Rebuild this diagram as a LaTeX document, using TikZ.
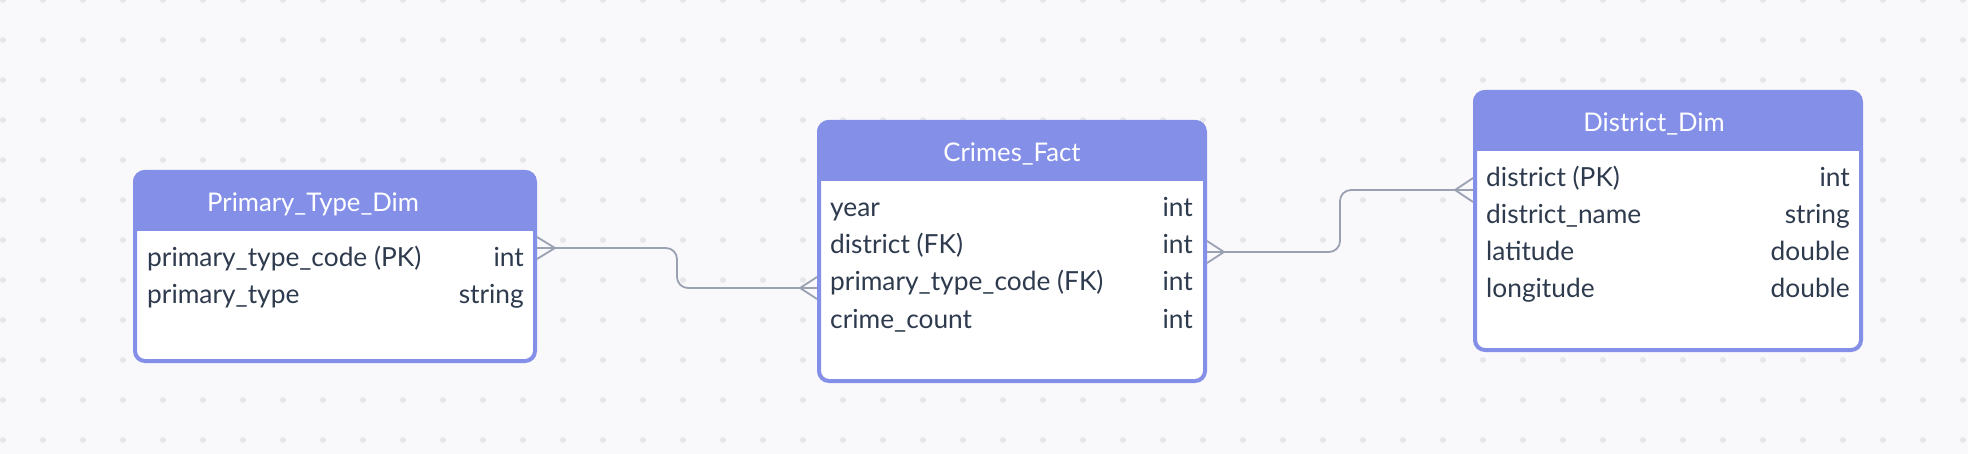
\documentclass[tikz,border=0pt]{standalone}
\usepackage{fontspec}
\setmainfont{Lato}
\usetikzlibrary{calc}
\definecolor{bg}{HTML}{F9F9FB}
\definecolor{dotc}{HTML}{E6E7EB}
\definecolor{hdr}{HTML}{8490E8}
\definecolor{txt}{HTML}{2E3A4D}
\definecolor{conn}{HTML}{9AA1B3}
\begin{document}
\begin{tikzpicture}[x=1pt,y=-1pt,
  tbl/.style={draw=hdr, line width=4pt, fill=white, rounded corners=10pt, inner sep=0pt, anchor=north west},
  ttl/.style={text=white, font=\fontsize{25.7}{28}\selectfont, inner sep=0pt, anchor=base},
  rowl/.style={text=txt, font=\fontsize{26.3}{30}\selectfont, inner sep=0pt, anchor=base west},
  rowr/.style={text=txt, font=\fontsize{26.3}{30}\selectfont, inner sep=0pt, anchor=base east},
  conn/.style={draw=conn, line width=1.8pt, line join=round}]
\fill[bg] (0,0) rectangle (1968,454);
\useasboundingbox (0,0) rectangle (1968,454);
\foreach \i in {0,...,49} \foreach \j in {0,...,11} \fill[dotc] ({3+40*\i},{40*\j}) circle (3pt);
% tables
\node[tbl, minimum width=400pt, minimum height=189pt] (ptd) at (133,170) {};
\node[tbl, minimum width=386pt, minimum height=259pt] (cf) at (817,120) {};
\node[tbl, minimum width=386pt, minimum height=258pt] (dd) at (1473,90) {};
\foreach \t in {ptd,cf,dd}{
  \begin{scope}
    \clip[rounded corners=12pt] (\t.north west) rectangle (\t.south east);
    \fill[hdr] (\t.north west) rectangle ($(\t.north east)+(0,61)$);
  \end{scope}
}
% titles
\node[ttl] (ptdT) at ($(ptd.north west)+(180,42)$) {Primary\_Type\_Dim};
\node[ttl] (cfT) at ($(cf.north)+(0,42)$) {Crimes\_Fact};
\node[ttl] (ddT) at ($(dd.north west)+(181,42)$) {District\_Dim};
% Primary_Type_Dim rows
\node[rowl] (p1l) at ($(ptd.north west)+(14,97)$) {primary\_type\_code (PK)};
\node[rowr] (p1r) at ($(ptd.north east)+(-13,97)$) {int};
\node[rowl] (p2l) at ($(ptd.north west)+(14,134)$) {primary\_type};
\node[rowr] (p2r) at ($(ptd.north east)+(-13,134)$) {string};
% Crimes_Fact rows
\node[rowl] (c1l) at ($(cf.north west)+(13,97)$) {year};
\node[rowr] (c1r) at ($(cf.north east)+(-14,97)$) {int};
\node[rowl] (c2l) at ($(cf.north west)+(13,134)$) {district (FK)};
\node[rowr] (c2r) at ($(cf.north east)+(-14,134)$) {int};
\node[rowl] (c3l) at ($(cf.north west)+(13,171)$) {primary\_type\_code (FK)};
\node[rowr] (c3r) at ($(cf.north east)+(-14,171)$) {int};
\node[rowl] (c4l) at ($(cf.north west)+(13,208)$) {crime\_count};
\node[rowr] (c4r) at ($(cf.north east)+(-14,208)$) {int};
% District_Dim rows
\node[rowl] (d1l) at ($(dd.north west)+(13,97)$) {district (PK)};
\node[rowr] (d1r) at ($(dd.north east)+(-13,97)$) {int};
\node[rowl] (d2l) at ($(dd.north west)+(13,134)$) {district\_name};
\node[rowr] (d2r) at ($(dd.north east)+(-13,134)$) {string};
\node[rowl] (d3l) at ($(dd.north west)+(13,171)$) {latitude};
\node[rowr] (d3r) at ($(dd.north east)+(-13,171)$) {double};
\node[rowl] (d4l) at ($(dd.north west)+(13,208)$) {longitude};
\node[rowr] (d4r) at ($(dd.north east)+(-13,208)$) {double};
% connector 1
\coordinate (a1) at ($(ptd.north east)+(0,78)$);
\coordinate (b1) at ($(cf.north west)+(0,168)$);
\coordinate (m1) at ($(a1)!0.5!(b1)$);
\draw[conn, rounded corners=11pt] (a1) -- (a1 -| m1) -- (b1 -| m1) -- (b1);
\draw[conn] ($(a1)+(0,-11)$) -- ($(a1)+(18,0)$) -- ($(a1)+(0,11)$);
\draw[conn] ($(b1)+(0,-11)$) -- ($(b1)+(-17,0)$) -- ($(b1)+(0,11)$);
% connector 2
\coordinate (a2) at ($(cf.north east)+(0,132)$);
\coordinate (b2) at ($(dd.north west)+(0,100)$);
\coordinate (m2) at ($(a2)!0.5!(b2)$);
\draw[conn, rounded corners=11pt] (a2) -- (a2 -| m2) -- (b2 -| m2) -- (b2);
\draw[conn] ($(a2)+(0,-11)$) -- ($(a2)+(17,0)$) -- ($(a2)+(0,11)$);
\draw[conn] ($(b2)+(0,-12)$) -- ($(b2)+(-18,0)$) -- ($(b2)+(0,12)$);
\end{tikzpicture}
\end{document}
